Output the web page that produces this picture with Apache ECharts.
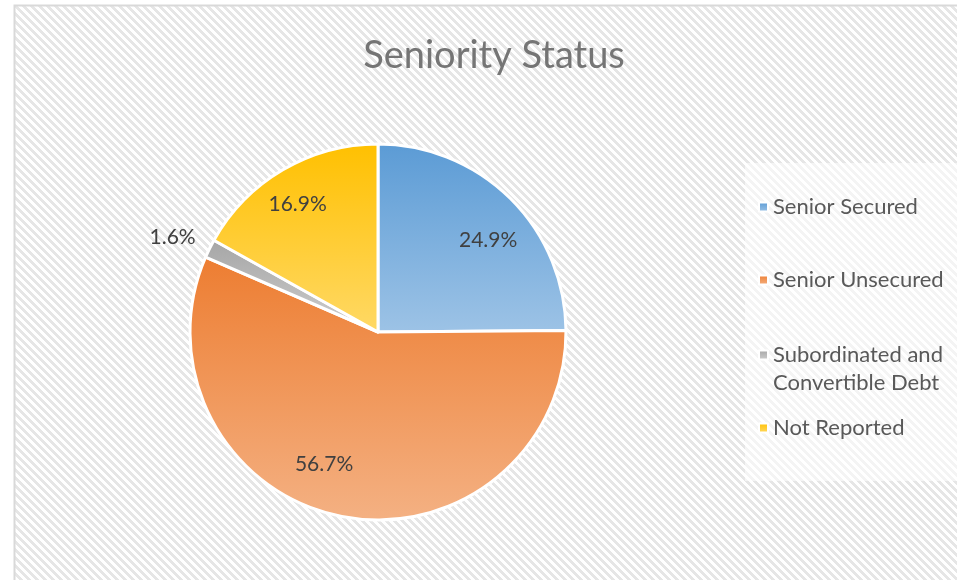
<!DOCTYPE html>
<html>
<head>
<meta charset="utf-8">
<script src="https://cdn.jsdelivr.net/npm/echarts@6/dist/echarts.min.js"></script>
<style>
html,body{margin:0;padding:0;background:#fff;}
#chart{width:957px;height:580px;}
</style>
</head>
<body>
<div id="chart"></div>
<script>
const categories = ['Senior Secured', 'Senior Unsecured', 'Subordinated and Convertible Debt', 'Not Reported'];
const values = [24.9, 56.7, 1.6, 16.9];
const legendLabels = ['Senior Secured', 'Senior Unsecured', ' \nSubordinated and\nConvertible Debt', 'Not Reported'];
const topColors = ['#5B9BD5', '#ED7D31', '#A5A5A5', '#FFC000'];
const bottomColors = ['#9DC3E6', '#F4B183', '#CFCFCF', '#FFD966'];
const titleText = 'Seniority Status';

const FONT = 'Lato';

// hatch pattern tile
const tile = document.createElement('canvas');
tile.width = 8; tile.height = 8;
const tctx = tile.getContext('2d');
tctx.fillStyle = '#ffffff';
tctx.fillRect(0, 0, 8, 8);
tctx.fillStyle = '#e6e6e6';
for (let y = 0; y < 8; y++) {
  for (let x = 0; x < 8; x++) {
    if (((x - y) % 8 + 8) % 8 < 4) tctx.fillRect(x, y, 1, 1);
  }
}

function grad(i) {
  return {
    type: 'linear', x: 0, y: 0, x2: 0, y2: 1,
    colorStops: [{offset: 0, color: topColors[i]}, {offset: 1, color: bottomColors[i]}]
  };
}

const mainData = categories.map((c, i) => ({
  name: c,
  value: values[i],
  itemStyle: {color: grad(i)},
  label: {show: i === 2, offset: [1, -6]}
}));

// small nudges mimicking the spreadsheet "best fit" label placement
const labelNudges = [[8, 11], [-25, -10], [0, 0], [-7, -3]];
const labelData = categories.map((c, i) => ({
  name: c,
  value: values[i],
  label: {show: i !== 2, offset: labelNudges[i]}
}));

const legendTops = [193, 266, 313, 414];
const legends = categories.map((c, i) => ({
  data: [c],
  orient: 'vertical',
  left: 758,
  top: legendTops[i],
  padding: 0,
  icon: 'rect',
  itemWidth: 9,
  itemHeight: 9,
  selectedMode: false,
  formatter: () => legendLabels[i],
  textStyle: {fontFamily: FONT, fontSize: 22, color: '#595959', lineHeight: 28}
}));

const chart = echarts.init(document.getElementById('chart'), null, {renderer: 'canvas'});
chart.setOption({
  animation: false,
  backgroundColor: '#ffffff',
  graphic: [
    {type: 'rect', z: -10, shape: {x: 14.5, y: 5.5, width: 1000, height: 700},
     style: {fill: {image: tile, repeat: 'repeat'}, stroke: '#d9d9d9', lineWidth: 2}},
    {type: 'rect', z: -9, shape: {x: 745, y: 163, width: 230, height: 318},
     style: {fill: 'rgba(255,255,255,0.55)'}}
  ],
  title: {
    text: titleText,
    left: 489,
    top: 32,
    textAlign: 'center',
    textStyle: {fontFamily: FONT, fontSize: 38, fontWeight: 'normal', color: '#757575'}
  },
  legend: legends,
  series: [
    {
      type: 'pie',
      center: [378, 332],
      radius: [0, 188],
      startAngle: 90,
      clockwise: true,
      avoidLabelOverlap: false,
      silent: true,
      itemStyle: {borderColor: '#ffffff', borderWidth: 3},
      label: {
        position: 'outside',
        formatter: p => p.value.toFixed(1) + '%',
        fontFamily: FONT, fontSize: 21, color: '#404040'
      },
      labelLine: {show: false, length: 11, length2: 0},
      data: mainData
    },
    {
      type: 'pie',
      center: [378, 332],
      radius: [0, 284],
      startAngle: 90,
      clockwise: true,
      silent: true,
      legendHoverLink: false,
      itemStyle: {color: 'rgba(0,0,0,0)', borderWidth: 0},
      label: {
        position: 'inside',
        formatter: p => p.value.toFixed(1) + '%',
        fontFamily: FONT, fontSize: 21, color: '#404040'
      },
      labelLine: {show: false},
      emphasis: {disabled: true},
      data: labelData
    }
  ]
});
</script>
</body>
</html>
